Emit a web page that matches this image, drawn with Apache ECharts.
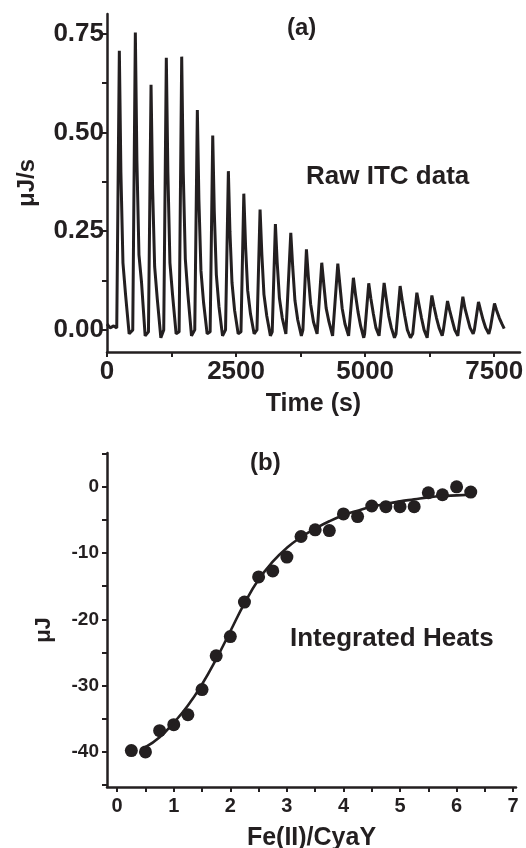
<!DOCTYPE html>
<html>
<head>
<meta charset="utf-8">
<script src="https://cdn.jsdelivr.net/npm/echarts@6/dist/echarts.min.js"></script>
<style>
  html, body { margin: 0; padding: 0; background: #fff; }
  #itc { width: 526px; height: 848px; }
</style>
</head>
<body>
<div id="itc"></div>
<script>
// (a) raw ITC trace
var rawTime = [0, 60, 130,
  189, 239, 269, 309, 359, 429,
  499, 549, 579, 619, 669, 739,
  803, 853, 883, 923, 973, 1043,
  1099, 1149, 1179, 1219, 1269, 1339,
  1397, 1447, 1477, 1517, 1567, 1637,
  1700, 1750, 1780, 1820, 1870, 1940,
  1998, 2048, 2078, 2118, 2168, 2238,
  2296, 2351, 2381, 2421, 2471, 2541,
  2595, 2650, 2685, 2725, 2780, 2850,
  2905, 2965, 3000, 3040, 3095, 3165,
  3200, 3262, 3297, 3340, 3395, 3465,
  3495, 3560, 3597, 3640, 3695, 3765,
  3795, 3863, 3900, 3945, 4000, 4070,
  4090, 4160, 4200, 4245, 4300, 4370,
  4395, 4471, 4510, 4555, 4610, 4680,
  4693, 4773, 4813, 4863, 4913, 4973,
  4990, 5070, 5110, 5160, 5210, 5270,
  5288, 5368, 5408, 5458, 5508, 5568,
  5598, 5678, 5718, 5768, 5818, 5878,
  5922, 6002, 6042, 6092, 6142, 6202,
  6213, 6293, 6333, 6383, 6433, 6493,
  6516, 6596, 6636, 6686, 6736, 6796,
  6813, 6893, 6933, 6983, 7033, 7093,
  7116, 7196, 7236, 7286, 7336, 7396,
  7426, 7506, 7546, 7600, 7650, 7694];
var rawRate = [0.015, 0.005, 0.010,
  0.005, 0.707, 0.40, 0.17, 0.09, -0.010,
  0.000, 0.753, 0.43, 0.19, 0.12, -0.015,
  -0.005, 0.621, 0.36, 0.16, 0.08, -0.020,
  0.000, 0.689, 0.40, 0.17, 0.09, -0.010,
  -0.005, 0.692, 0.40, 0.18, 0.09, -0.015,
  0.000, 0.557, 0.33, 0.15, 0.07, -0.010,
  -0.005, 0.492, 0.30, 0.14, 0.06, -0.015,
  0.000, 0.402, 0.25, 0.12, 0.05, -0.010,
  -0.005, 0.345, 0.21, 0.10, 0.04, -0.010,
  0.000, 0.305, 0.19, 0.09, 0.035, -0.015,
  -0.005, 0.268, 0.17, 0.08, 0.030, -0.010,
  -0.010, 0.246, 0.16, 0.075, 0.025, -0.015,
  0.000, 0.204, 0.135, 0.065, 0.020, -0.010,
  -0.005, 0.170, 0.115, 0.055, 0.020, -0.015,
  -0.010, 0.168, 0.115, 0.055, 0.015, -0.015,
  -0.010, 0.132, 0.090, 0.045, 0.010, -0.020,
  -0.010, 0.118, 0.080, 0.040, 0.005, -0.015,
  -0.010, 0.119, 0.080, 0.035, 0.005, -0.020,
  -0.010, 0.111, 0.075, 0.035, 0.000, -0.020,
  -0.010, 0.094, 0.065, 0.030, 0.000, -0.020,
  -0.005, 0.087, 0.060, 0.030, 0.005, -0.015,
  0.000, 0.073, 0.050, 0.025, 0.000, -0.015,
  0.005, 0.084, 0.055, 0.030, 0.005, -0.010,
  0.000, 0.071, 0.050, 0.025, 0.005, -0.010,
  0.005, 0.067, 0.050, 0.030, 0.015, 0.003];

// (b) integrated heats + fit
var molarRatio = [0.25, 0.5, 0.75, 1.0, 1.25, 1.5, 1.75, 2.0, 2.25, 2.5, 2.75, 3.0, 3.25,
  3.5, 3.75, 4.0, 4.25, 4.5, 4.75, 5.0, 5.25, 5.5, 5.75, 6.0, 6.25];
var heats = [-39.8, -40.0, -36.8, -35.9, -34.4, -30.6, -25.5, -22.6, -17.4, -13.6, -12.7, -10.6, -7.5,
  -6.5, -6.6, -4.1, -4.5, -2.9, -3.0, -3.0, -3.0, -0.9, -1.2, 0.0, -0.8];
var fitRatio = [0.5, 0.75, 1.0, 1.25, 1.5, 1.75, 2.0, 2.25, 2.5, 2.75, 3.0, 3.25,
  3.5, 3.75, 4.0, 4.25, 4.5, 4.75, 5.0, 5.25, 5.5, 5.75, 6.0, 6.25];
var fitHeat = [-39.3, -37.8, -35.6, -33.0, -29.8, -26.0, -21.8, -17.6, -14.0, -11.3, -9.2, -7.6,
  -6.3, -5.2, -4.3, -3.6, -3.0, -2.6, -2.2, -1.9, -1.6, -1.4, -1.3, -1.2];

// ticks
var timeTicks = [0, 1250, 2500, 3750, 5000, 6250, 7500];
var timeLabels = [0, 2500, 5000, 7500];
var rateTicks = [0, 0.125, 0.25, 0.375, 0.5, 0.625, 0.75];
var rateLabels = [0, 0.25, 0.5, 0.75];
var ratioTicks = [0, 0.5, 1, 1.5, 2, 2.5, 3, 3.5, 4, 4.5, 5, 5.5, 6, 6.5, 7];
var ratioLabels = [0, 1, 2, 3, 4, 5, 6, 7];
var heatTicks = [-45, -40, -35, -30, -25, -20, -15, -10, -5, 0, 5];
var heatLabels = [-40, -30, -20, -10, 0];

var ink = '#231f20';
var font = 'Liberation Sans, Arial, sans-serif';

function axisCommon() {
  return {
    axisLine: { show: true, onZero: false, lineStyle: { color: ink, width: 2.5 } },
    axisTick: { show: true, inside: false, length: 5, lineStyle: { color: ink, width: 2 } },
    splitLine: { show: false }
  };
}

var myChart = echarts.init(document.getElementById('itc'));

var xTop = axisCommon();
xTop.type = 'value'; xTop.gridIndex = 0; xTop.min = 0; xTop.max = 8000;
xTop.axisTick.customValues = timeTicks;
xTop.axisLabel = { customValues: timeLabels, margin: 7, fontSize: 26, fontWeight: 'bold', fontFamily: font, color: ink,
  formatter: function (v) { return String(v); } };
xTop.name = 'Time (s)'; xTop.nameLocation = 'middle'; xTop.nameGap = 40;
xTop.nameTextStyle = { fontSize: 25, fontWeight: 'bold', fontFamily: font, color: ink };

var yTop = axisCommon();
yTop.type = 'value'; yTop.gridIndex = 0; yTop.min = -0.056; yTop.max = 0.8;
yTop.axisTick.customValues = rateTicks;
yTop.axisLabel = { customValues: rateLabels, margin: 3, fontSize: 26, fontWeight: 'bold', fontFamily: font, color: ink,
  formatter: function (v) { return v.toFixed(2); } };
yTop.name = 'μJ/s'; yTop.nameLocation = 'middle'; yTop.nameGap = 68; yTop.nameRotate = 90;
yTop.nameTextStyle = { fontSize: 24, fontWeight: 'bold', fontFamily: font, color: ink };

var xBot = axisCommon();
xBot.type = 'value'; xBot.gridIndex = 1; xBot.min = -0.18; xBot.max = 7.05;
xBot.axisTick.customValues = ratioTicks;
xBot.axisLabel = { customValues: ratioLabels, margin: 9, fontSize: 20, fontWeight: 'bold', fontFamily: font, color: ink };
xBot.name = 'Fe(II)/CyaY'; xBot.nameLocation = 'middle'; xBot.nameGap = 39;
xBot.nameTextStyle = { fontSize: 25, fontWeight: 'bold', fontFamily: font, color: ink };

var yBot = axisCommon();
yBot.type = 'value'; yBot.gridIndex = 1; yBot.min = -45.3; yBot.max = 5.1;
yBot.axisTick.customValues = heatTicks;
yBot.axisLabel = { customValues: heatLabels, margin: 8, fontSize: 19, fontWeight: 'bold', fontFamily: font, color: ink };
yBot.name = 'μJ'; yBot.nameLocation = 'middle'; yBot.nameGap = 52; yBot.nameRotate = 90;
yBot.nameTextStyle = { fontSize: 22, fontWeight: 'bold', fontFamily: font, color: ink, padding: [0, 20, 0, 0] };

var rawData = rawTime.map(function (t, i) { return [t, rawRate[i]]; });
var heatData = molarRatio.map(function (r, i) { return [r, heats[i]]; });
var fitData = fitRatio.map(function (r, i) { return [r, fitHeat[i]]; });

var option = {
  animation: false,
  backgroundColor: '#fff',
  grid: [
    { left: 107, right: 6, top: 14, bottom: 496, containLabel: false, outerBoundsMode: 'none' },
    { left: 107, right: 10, top: 453, bottom: 61, containLabel: false, outerBoundsMode: 'none' }
  ],
  xAxis: [xTop, xBot],
  yAxis: [yTop, yBot],
  graphic: [
    { type: 'text', left: 287, top: 16, style: { text: '(a)', font: 'bold 24px ' + font, fill: ink } },
    { type: 'text', left: 306, top: 164, style: { text: 'Raw ITC data', font: 'bold 26px ' + font, fill: ink } },
    { type: 'text', left: 250, top: 451, style: { text: '(b)', font: 'bold 24px ' + font, fill: ink } },
    { type: 'text', left: 290, top: 626, style: { text: 'Integrated Heats', font: 'bold 26px ' + font, fill: ink } }
  ],
  series: [
    {
      name: 'raw', type: 'line', xAxisIndex: 0, yAxisIndex: 0,
      data: rawData, showSymbol: false, smooth: false,
      lineStyle: { color: ink, width: 3 }
    },
    {
      name: 'fit', type: 'line', xAxisIndex: 1, yAxisIndex: 1,
      data: fitData, showSymbol: false, smooth: true,
      lineStyle: { color: ink, width: 2.6 }
    },
    {
      name: 'heats', type: 'scatter', xAxisIndex: 1, yAxisIndex: 1,
      data: heatData, symbolSize: 13,
      itemStyle: { color: ink, opacity: 1 }
    }
  ]
};
myChart.setOption(option);
</script>
</body>
</html>
